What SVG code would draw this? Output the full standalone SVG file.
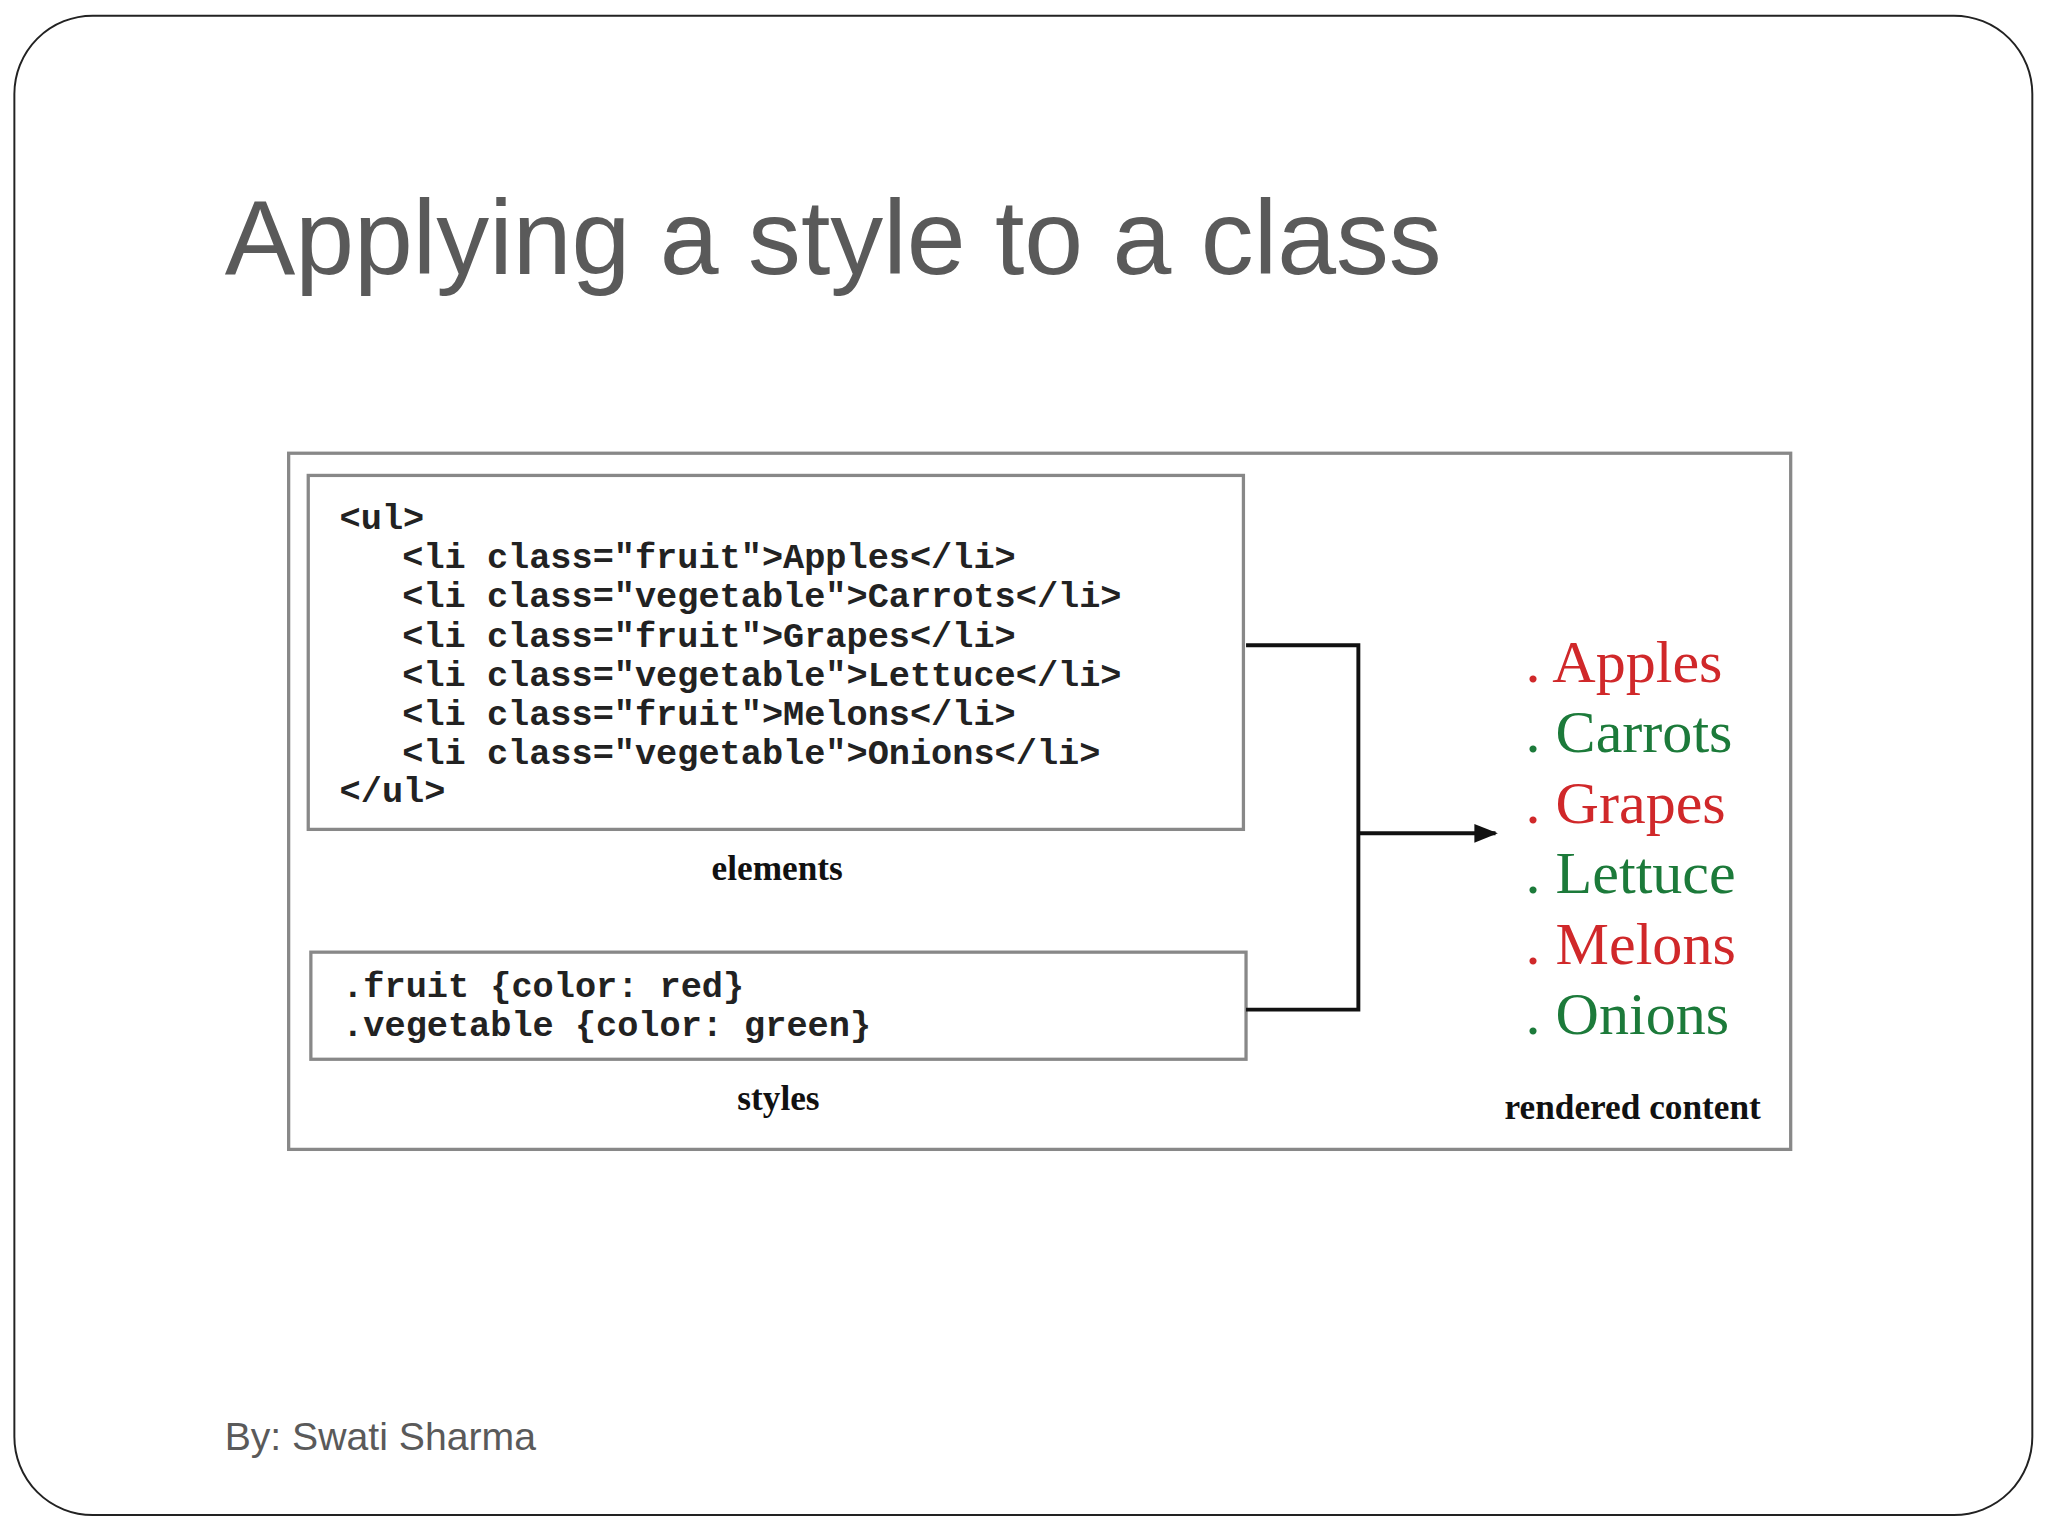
<svg xmlns="http://www.w3.org/2000/svg" width="2048" height="1536" viewBox="0 0 2048 1536">
<defs>
<style>
.code{font-family:"Liberation Mono",monospace;font-weight:bold;font-size:27px;fill:#222}
.cap{font-family:"Liberation Serif",serif;font-weight:bold;font-size:27px;fill:#111;text-anchor:middle}
.item{font-family:"Liberation Serif",serif;font-size:46px}
.r{fill:#d0282a}.g{fill:#1c7a3a}
.box{fill:#fff;stroke:#888;stroke-width:2.5}
.ln{fill:none;stroke:#111;stroke-width:3}
</style>
<marker id="ah" viewBox="0 0 10 10" refX="9" refY="5" markerWidth="6" markerHeight="6" orient="auto"><path d="M0,1 L10,5 L0,9 Z" fill="#111"/></marker>
</defs>
<rect width="2048" height="1536" fill="#fff"/>
<g transform="scale(1.30612)">
<rect x="11" y="12" width="1545" height="1148" rx="60" fill="#fff" stroke="#222" stroke-width="1.5"/>
<text x="172" y="210" font-family="Liberation Sans,sans-serif" font-size="81" fill="#5a5a5a">Applying a style to a class</text>
<rect x="221" y="347" width="1150" height="533" class="box"/>
<g id="elements">
<rect x="236" y="364" width="716" height="271" class="box"/>
<text class="code" x="260" y="405">&lt;ul&gt;</text>
<text class="code" x="308" y="435">&lt;li class="fruit"&gt;Apples&lt;/li&gt;</text>
<text class="code" x="308" y="465">&lt;li class="vegetable"&gt;Carrots&lt;/li&gt;</text>
<text class="code" x="308" y="495">&lt;li class="fruit"&gt;Grapes&lt;/li&gt;</text>
<text class="code" x="308" y="525">&lt;li class="vegetable"&gt;Lettuce&lt;/li&gt;</text>
<text class="code" x="308" y="555">&lt;li class="fruit"&gt;Melons&lt;/li&gt;</text>
<text class="code" x="308" y="585">&lt;li class="vegetable"&gt;Onions&lt;/li&gt;</text>
<text class="code" x="260" y="614">&lt;/ul&gt;</text>
<text class="cap" x="595" y="674">elements</text>
</g>
<g id="styles">
<rect x="238" y="729" width="716" height="82" class="box"/>
<text class="code" x="262" y="763">.fruit {color: red}</text>
<text class="code" x="262" y="793">.vegetable {color: green}</text>
<text class="cap" x="596" y="850">styles</text>
</g>
<g id="connectors">
<polyline class="ln" points="954,494 1040,494 1040,773 954,773"/>
<line class="ln" x1="1040" y1="638" x2="1145" y2="638" marker-end="url(#ah)"/>
</g>
<g id="rendered">
<text class="item r" x="1168" y="522">. Apples</text>
<text class="item g" x="1168" y="576">. Carrots</text>
<text class="item r" x="1168" y="630">. Grapes</text>
<text class="item g" x="1168" y="684">. Lettuce</text>
<text class="item r" x="1168" y="738">. Melons</text>
<text class="item g" x="1168" y="792">. Onions</text>
<text class="cap" x="1250" y="857">rendered content</text>
</g>
<text x="172" y="1110" font-family="Liberation Sans,sans-serif" font-size="30" fill="#5a5a5a">By: Swati Sharma</text>
</g>
</svg>
